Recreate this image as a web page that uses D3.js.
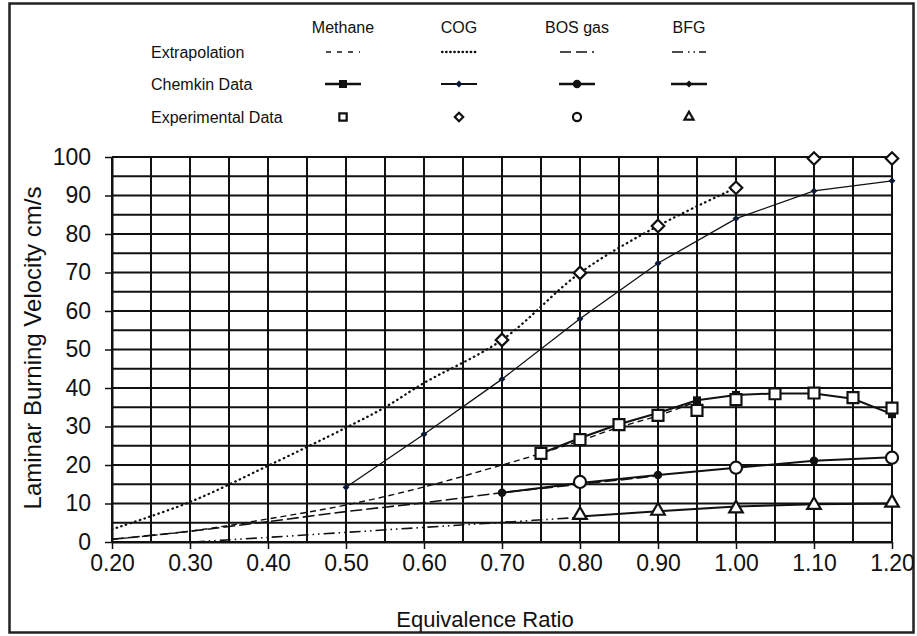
<!doctype html>
<html>
<head>
<meta charset="utf-8">
<script src="https://cdn.jsdelivr.net/npm/d3@7/dist/d3.min.js"></script>
<style>
  body { margin: 0; background: #fff; }
  text { font-family: "Liberation Sans", Arial, sans-serif; fill: #111; }
</style>
</head>
<body>
<svg id="chart"></svg>
<script>
// series names (legend columns) and legend rows
var gases = ["Methane", "COG", "BOS gas", "BFG"];
var rowLabels = ["Extrapolation", "Chemkin Data", "Experimental Data"];

// extrapolation curves
var methaneExtX = [0.20, 0.30, 0.40, 0.50, 0.60, 0.70, 0.75, 0.80, 0.85, 0.90, 0.95];
var methaneExtY = [0.7, 2.8, 6.0, 9.6, 14.3, 20.0, 23.0, 26.3, 29.8, 32.8, 36.5];
var cogExtX = [0.20, 0.30, 0.40, 0.50, 0.55, 0.60, 0.70, 0.80, 0.90, 1.00];
var cogExtY = [3.3, 10.4, 19.8, 29.7, 35.0, 41.3, 52.5, 69.9, 82.1, 92.0];
var bosExtX = [0.20, 0.30, 0.40, 0.50, 0.60, 0.70, 0.80, 0.90];
var bosExtY = [0.7, 2.8, 5.3, 7.9, 10.2, 12.8, 15.0, 17.2];
var bfgExtX = [0.305, 0.40, 0.50, 0.60, 0.70, 0.80];
var bfgExtY = [0.0, 1.2, 2.5, 3.8, 5.1, 6.4];

// chemkin data
var methaneChemX = [0.75, 0.80, 0.85, 0.90, 0.95, 1.00, 1.05, 1.10, 1.15, 1.20];
var methaneChemY = [23.0, 27.0, 30.6, 33.5, 36.8, 38.2, 38.6, 38.6, 37.2, 33.2];
var cogChemX = [0.50, 0.60, 0.70, 0.80, 0.90, 1.00, 1.10, 1.20];
var cogChemY = [14.2, 28.0, 42.3, 58.0, 72.4, 84.0, 91.2, 93.8];
var bosChemX = [0.70, 0.80, 0.90, 1.00, 1.10, 1.20];
var bosChemY = [12.8, 15.3, 17.4, 19.3, 21.1, 22.0];
var bfgChemX = [0.80, 0.90, 1.00, 1.10, 1.20];
var bfgChemY = [6.6, 8.0, 9.2, 9.8, 10.0];

// experimental data
var methaneExpX = [0.75, 0.80, 0.85, 0.90, 0.95, 1.00, 1.05, 1.10, 1.15, 1.20];
var methaneExpY = [23.0, 26.6, 30.5, 32.9, 34.2, 37.0, 38.5, 38.7, 37.5, 34.8];
var cogExpX = [0.70, 0.80, 0.90, 1.00, 1.10, 1.20];
var cogExpY = [52.5, 69.9, 82.1, 92.0, 99.6, 99.6];
var bosExpX = [0.80, 1.00, 1.20];
var bosExpY = [15.6, 19.3, 21.9];
var bfgExpX = [0.80, 0.90, 1.00, 1.10, 1.20];
var bfgExpY = [7.0, 8.1, 8.7, 9.6, 10.2];

// axis ticks
var xTicks = [0.2, 0.3, 0.4, 0.5, 0.6, 0.7, 0.8, 0.9, 1.0, 1.1, 1.2];
var yTicks = [0, 10, 20, 30, 40, 50, 60, 70, 80, 90, 100];

var W = 917, H = 636;
var plotL = 112, plotR = 892, plotT = 157, plotB = 542;

var svg = d3.select("#chart").attr("width", W).attr("height", H);

svg.append("rect").attr("x", 9.5).attr("y", 3.5).attr("width", 904).attr("height", 629)
   .attr("fill", "#fff").attr("stroke", "#222").attr("stroke-width", 2.5);

var x = d3.scaleLinear().domain([0.2, 1.2]).range([plotL, plotR]);
var y = d3.scaleLinear().domain([0, 100]).range([plotB, plotT]);

var zip = (xs, ys) => xs.map((v, i) => [v, ys[i]]);

// grid
var grid = svg.append("g").attr("stroke", "#111").attr("stroke-width", 2);
grid.selectAll("line.v").data(d3.range(0, 21).map(i => 0.2 + i * 0.05)).enter()
    .append("line").attr("x1", d => x(d)).attr("x2", d => x(d))
    .attr("y1", y(0)).attr("y2", y(100));
grid.selectAll("line.h").data(d3.range(0, 21).map(i => i * 5)).enter()
    .append("line").attr("x1", x(0.2)).attr("x2", x(1.2))
    .attr("y1", d => y(d)).attr("y2", d => y(d));

// axes
var xAxis = d3.axisBottom(x).tickValues(xTicks).tickFormat(d3.format(".2f")).tickSize(7).tickSizeOuter(0);
var yAxis = d3.axisLeft(y).tickValues(yTicks).tickSize(7).tickSizeOuter(0);
var gx = svg.append("g").attr("transform", "translate(0," + plotB + ")").call(xAxis);
var gy = svg.append("g").attr("transform", "translate(" + plotL + ",0)").call(yAxis);
[gx, gy].forEach(g => {
  g.select(".domain").attr("stroke", "#111").attr("stroke-width", 2);
  g.selectAll(".tick line").attr("stroke", "#111").attr("stroke-width", 1.5);
  g.selectAll(".tick text").style("font-size", "23px").attr("fill", "#111")
   .style("font-family", "'Liberation Sans', Arial, sans-serif");
});
gx.selectAll(".tick text").attr("dy", "0.71em").attr("y", 13);
gy.selectAll(".tick text").attr("x", -21);

svg.append("text").attr("x", 485).attr("y", 627).attr("text-anchor", "middle")
   .style("font-size", "22px").text("Equivalence Ratio");
svg.append("text").attr("transform", "translate(41,348) rotate(-90)").attr("text-anchor", "middle")
   .style("font-size", "24px").text("Laminar Burning Velocity cm/s");

// lines
var smooth = d3.line().x(d => x(d[0])).y(d => y(d[1])).curve(d3.curveCatmullRom);
var straight = d3.line().x(d => x(d[0])).y(d => y(d[1]));

var extStyles = [
  {dash: "6,4", w: 1.4, cap: "butt"},
  {dash: "0.5,4.4", w: 2.3, cap: "round"},
  {dash: "12,4", w: 1.6, cap: "butt"},
  {dash: "11,4,1.5,4,1.5,4", w: 1.6, cap: "butt"}
];
var chemStyles = [
  {w: 2, shape: d3.symbolSquare, size: 64},
  {w: 1.3, shape: d3.symbolDiamond2, size: 30},
  {w: 2, shape: d3.symbolCircle, size: 56},
  {w: 2, shape: d3.symbolDiamond2, size: 32}
];
var expShapes = [
  {shape: d3.symbolSquare, size: 120},
  {shape: d3.symbolDiamond2, size: 100},
  {shape: d3.symbolCircle, size: 115},
  {shape: d3.symbolTriangle, size: 80}
];

var extData = [zip(methaneExtX, methaneExtY), zip(cogExtX, cogExtY), zip(bosExtX, bosExtY), zip(bfgExtX, bfgExtY)];
var chemData = [zip(methaneChemX, methaneChemY), zip(cogChemX, cogChemY), zip(bosChemX, bosChemY), zip(bfgChemX, bfgChemY)];
var expData = [zip(methaneExpX, methaneExpY), zip(cogExpX, cogExpY), zip(bosExpX, bosExpY), zip(bfgExpX, bfgExpY)];
var markColor = ["#111", "#0b1836", "#111", "#111"];

extData.forEach((pts, i) => {
  svg.append("path").datum(pts).attr("d", smooth).attr("fill", "none")
     .attr("stroke", "#111").attr("stroke-width", extStyles[i].w)
     .attr("stroke-linecap", extStyles[i].cap)
     .attr("stroke-dasharray", extStyles[i].dash);
});
chemData.forEach((pts, i) => {
  svg.append("path").datum(pts).attr("d", straight).attr("fill", "none")
     .attr("stroke", "#111").attr("stroke-width", chemStyles[i].w);
  svg.selectAll(null).data(pts).enter().append("path")
     .attr("transform", d => "translate(" + x(d[0]) + "," + y(d[1]) + ")")
     .attr("d", d3.symbol().type(chemStyles[i].shape).size(chemStyles[i].size))
     .attr("fill", markColor[i]);
});
expData.forEach((pts, i) => {
  svg.selectAll(null).data(pts).enter().append("path")
     .attr("transform", d => "translate(" + x(d[0]) + "," + y(d[1]) + ")")
     .attr("d", d3.symbol().type(expShapes[i].shape).size(expShapes[i].size))
     .attr("fill", "#fff").attr("stroke", "#111").attr("stroke-width", 2.2);
});

// legend
var colX = [343, 459, 577, 689];
var rowY = [52, 84, 117];
var legDash = ["5,6", "0.5,3.6", "11,5", "11,5,1.5,4,1.5,4"];
var leg = svg.append("g");
gases.forEach((g, i) => {
  leg.append("text").attr("x", colX[i]).attr("y", 33).attr("text-anchor", "middle")
     .style("font-size", "16px").text(g);
});
rowLabels.forEach((r, j) => {
  leg.append("text").attr("x", 151).attr("y", rowY[j] + 6).style("font-size", "16px").text(r);
});
gases.forEach((g, i) => {
  leg.append("line").attr("x1", colX[i] - 17).attr("x2", colX[i] + 17)
     .attr("y1", rowY[0]).attr("y2", rowY[0]).attr("stroke", "#111")
     .attr("stroke-width", extStyles[i].w).attr("stroke-linecap", extStyles[i].cap)
     .attr("stroke-dasharray", legDash[i]);
  leg.append("line").attr("x1", colX[i] - 18).attr("x2", colX[i] + 18)
     .attr("y1", rowY[1]).attr("y2", rowY[1]).attr("stroke", "#111")
     .attr("stroke-width", chemStyles[i].w + 0.5);
  leg.append("path").attr("transform", "translate(" + colX[i] + "," + rowY[1] + ")")
     .attr("d", d3.symbol().type(chemStyles[i].shape).size(chemStyles[i].size))
     .attr("fill", markColor[i]);
  leg.append("path").attr("transform", "translate(" + colX[i] + "," + rowY[2] + ")")
     .attr("d", d3.symbol().type(expShapes[i].shape).size(expShapes[i].size * 0.45))
     .attr("fill", "#fff").attr("stroke", "#111").attr("stroke-width", 2.2);
});
</script>
</body>
</html>
